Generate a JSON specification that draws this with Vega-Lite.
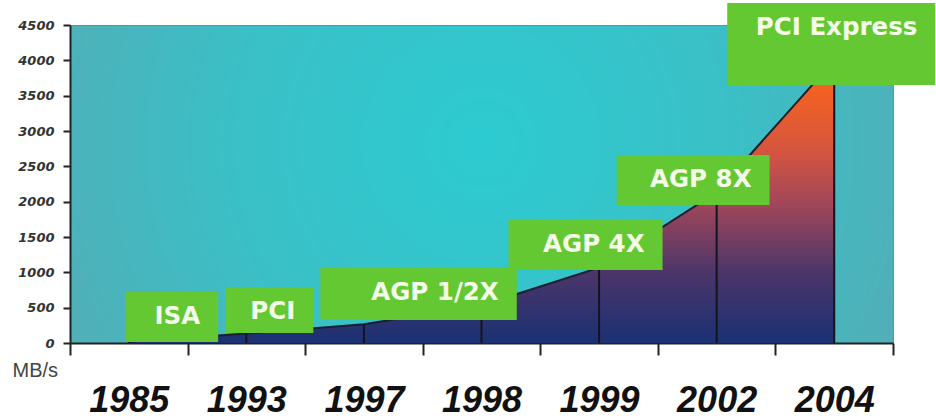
{
  "$schema": "https://vega.github.io/schema/vega-lite/v6.json",
  "width": 823,
  "height": 318,
  "autosize": {"type": "none"},
  "padding": {"left": 70, "top": 25, "right": 43, "bottom": 76},
  "background": "white",
  "config": {
    "view": {
      "fill": {
        "gradient": "radial",
        "x1": 0.5, "y1": 0.45, "r1": 0,
        "x2": 0.5, "y2": 0.45, "r2": 0.62,
        "stops": [
          {"offset": 0, "color": "#2ccbd1"},
          {"offset": 0.5, "color": "#3bbfc6"},
          {"offset": 1, "color": "#57aab3"}
        ]
      },
      "stroke": "#6b8f96",
      "strokeWidth": 1
    }
  },
  "datasets": {
    "bandwidth": [
      {"year": "1985", "mbps": 16},
      {"year": "1993", "mbps": 133},
      {"year": "1997", "mbps": 266},
      {"year": "1998", "mbps": 533},
      {"year": "1999", "mbps": 1066},
      {"year": "2002", "mbps": 2133},
      {"year": "2004", "mbps": 4000}
    ],
    "labels": [
      {"label": "ISA", "start": 0.47, "end": 1.26, "low": 14, "high": 722},
      {"label": "PCI", "start": 1.32, "end": 2.07, "low": 141, "high": 792},
      {"label": "AGP 1/2X", "start": 2.13, "end": 3.8, "low": 325, "high": 1061},
      {"label": "AGP 4X", "start": 3.73, "end": 5.04, "low": 1033, "high": 1741},
      {"label": "AGP 8X", "start": 4.65, "end": 5.95, "low": 1953, "high": 2660},
      {"label": "PCI Express", "start": 5.59, "end": 7.36, "low": 3651, "high": 4811}
    ]
  },
  "resolve": {"scale": {"x": "independent"}, "axis": {"x": "independent", "y": "independent"}},
  "layer": [
    {
      "data": {"name": "bandwidth"},
      "encoding": {
        "x": {
          "field": "year",
          "type": "ordinal",
          "bandPosition": 0.5,
          "scale": {"type": "band", "paddingInner": 0, "paddingOuter": 0},
          "axis": {
            "title": null,
            "tickBand": "extent",
            "tickExtra": true,
            "tickSize": 12,
            "tickWidth": 2,
            "tickColor": "#222222",
            "domainColor": "#222222",
            "domainWidth": 2,
            "labelAngle": 0,
            "labelFont": "Liberation Sans",
            "labelFontSize": 36,
            "labelFontWeight": "bold",
            "labelFontStyle": "italic",
            "labelColor": "#111111",
            "labelPadding": 28,
            "grid": false
          }
        },
        "y": {
          "field": "mbps",
          "type": "quantitative",
          "scale": {"domain": [0, 4500], "nice": false},
          "axis": {
            "title": "MB/s",
            "values": [0, 500, 1000, 1500, 2000, 2500, 3000, 3500, 4000, 4500],
            "format": "d",
            "grid": false,
            "tickSize": 7,
            "tickWidth": 2,
            "tickColor": "#222222",
            "domainColor": "#222222",
            "domainWidth": 2,
            "labelFont": "DejaVu Sans",
            "labelFontSize": 13,
            "labelFontWeight": "bold",
            "labelFontStyle": "italic",
            "labelColor": "#333333",
            "labelPadding": 9,
            "titleAngle": 0,
            "titleAlign": "left",
            "titleBaseline": "middle",
            "titleX": -58,
            "titleY": 345,
            "titleFont": "Liberation Sans",
            "titleFontSize": 20,
            "titleFontWeight": "normal",
            "titleColor": "#444444"
          }
        }
      },
      "layer": [
        {
          "mark": {
            "type": "area",
            "interpolate": "linear",
            "color": {
              "gradient": "linear",
              "x1": 0, "y1": 1, "x2": 0, "y2": 0,
              "stops": [
                {"offset": 0, "color": "#1a3173"},
                {"offset": 0.25, "color": "#4b3569"},
                {"offset": 0.49, "color": "#a0465a"},
                {"offset": 0.68, "color": "#d5553f"},
                {"offset": 0.86, "color": "#ef5f26"},
                {"offset": 1, "color": "#f4661a"}
              ]
            }
          }
        },
        {
          "mark": {"type": "line", "interpolate": "linear", "color": "#16202e", "strokeWidth": 2}
        },
        {
          "mark": {"type": "rule", "color": "#14141f", "strokeWidth": 2},
          "encoding": {"y2": {"datum": 0}}
        }
      ]
    },
    {
      "data": {"name": "labels"},
      "encoding": {
        "x": {
          "field": "start",
          "type": "quantitative",
          "scale": {"domain": [0, 7], "nice": false, "zero": false},
          "axis": null
        }
      },
      "layer": [
        {
          "mark": {"type": "rect", "color": "#64c832"},
          "encoding": {
            "x2": {"field": "end"},
            "y": {"field": "low", "type": "quantitative", "axis": null},
            "y2": {"field": "high"}
          }
        },
        {
          "mark": {
            "type": "text",
            "align": "right",
            "baseline": "middle",
            "dx": -18,
            "dy": 25,
            "font": "DejaVu Sans",
            "fontSize": 24.5,
            "fontWeight": "bold",
            "color": "#f4fbe8"
          },
          "encoding": {
            "x": {"field": "end", "type": "quantitative", "axis": null},
            "y": {"field": "high", "type": "quantitative", "axis": null},
            "text": {"field": "label"}
          }
        }
      ]
    }
  ]
}
